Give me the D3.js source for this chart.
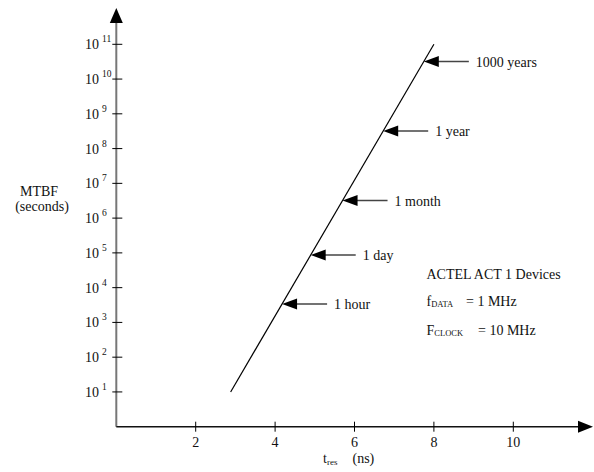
<!DOCTYPE html>
<html>
<head>
<meta charset="utf-8">
<script src="https://cdn.jsdelivr.net/npm/d3@7"></script>
<style>
  body { margin: 0; background: #fff; }
  text { font-family: "Liberation Serif", "DejaVu Serif", serif; fill: #111; }
</style>
</head>
<body>
<div id="chart"></div>
<script>
// chart data
var lineTres = [2.88, 8.0];          // ns
var lineMtbf = [1e1, 1e11];          // seconds
var xTicks = [2, 4, 6, 8, 10];
var yExponents = [1, 2, 3, 4, 5, 6, 7, 8, 9, 10, 11];
var markLabels = ["1000 years", "1 year", "1 month", "1 day", "1 hour"];
var markMtbf = [3.2e10, 3.2e8, 3.2e6, 8.7e4, 3.4e3];

var width = 594, height = 472;

var svg = d3.select("#chart").append("svg")
  .attr("width", width)
  .attr("height", height);

var x = d3.scaleLinear().domain([0, 10]).range([116.3, 513.3]);
var y = d3.scaleLog().domain([1, 1e11]).range([426.7, 44.3]);

// y axis (grey, with arrow)
svg.append("line")
  .attr("x1", x(0)).attr("x2", x(0))
  .attr("y1", y(1)).attr("y2", 22)
  .style("stroke", "#777").style("stroke-width", 2);
svg.append("path")
  .attr("d", "M" + x(0) + ",8 L" + (x(0) - 6.5) + ",23 L" + (x(0) + 6.5) + ",23 Z")
  .style("fill", "#000");

svg.selectAll(".ytick")
  .data(yExponents)
  .enter().append("line")
  .attr("class", "ytick")
  .attr("x1", x(0) - 4).attr("x2", x(0) + 6)
  .attr("y1", function(d) { return y(Math.pow(10, d)); })
  .attr("y2", function(d) { return y(Math.pow(10, d)); })
  .style("stroke", "#000").style("stroke-width", 1);

var ylab = svg.selectAll(".ylab")
  .data(yExponents)
  .enter().append("text")
  .attr("class", "ylab")
  .attr("x", 85)
  .attr("y", function(d) { return y(Math.pow(10, d)) + 5; })
  .style("font-size", "14px");
ylab.append("tspan").text("10");
ylab.append("tspan")
  .attr("dx", 3).attr("dy", -7)
  .style("font-size", "9.5px")
  .text(function(d) { return d; });

// x axis (black, with arrow)
svg.append("line")
  .attr("x1", x(0)).attr("x2", 580)
  .attr("y1", y(1)).attr("y2", y(1))
  .style("stroke", "#111").style("stroke-width", 1.5);
svg.append("path")
  .attr("d", "M593," + y(1) + " L578," + (y(1) - 6) + " L578," + (y(1) + 6) + " Z")
  .style("fill", "#000");

svg.selectAll(".xtick")
  .data(xTicks)
  .enter().append("line")
  .attr("class", "xtick")
  .attr("x1", function(d) { return x(d); })
  .attr("x2", function(d) { return x(d); })
  .attr("y1", y(1) - 5).attr("y2", y(1) + 5)
  .style("stroke", "#000").style("stroke-width", 1);

svg.selectAll(".xlab")
  .data(xTicks)
  .enter().append("text")
  .attr("class", "xlab")
  .attr("x", function(d) { return x(d); })
  .attr("y", 447)
  .attr("text-anchor", "middle")
  .style("font-size", "14px")
  .text(function(d) { return d; });

// axis titles
var xt = svg.append("text").attr("x", 323).attr("y", 463).style("font-size", "14px");
xt.append("tspan").text("t");
xt.append("tspan").attr("dy", 2).style("font-size", "9px").text("res");
svg.append("text").attr("x", 352.5).attr("y", 463).style("font-size", "14px").text("(ns)");

svg.append("text")
  .attr("x", 39).attr("y", 196)
  .attr("text-anchor", "middle")
  .style("font-size", "14px")
  .text("MTBF");
svg.append("text")
  .attr("x", 42).attr("y", 211)
  .attr("text-anchor", "middle")
  .style("font-size", "14px")
  .text("(seconds)");

// MTBF line
var pts = lineTres.map(function(d, i) { return [d, lineMtbf[i]]; });
svg.append("path")
  .datum(pts)
  .attr("d", d3.line().x(function(d) { return x(d[0]); }).y(function(d) { return y(d[1]); }))
  .style("fill", "none").style("stroke", "#000").style("stroke-width", 1.2);

// where a given MTBF hits the line (log-linear)
var lg0 = Math.log10(lineMtbf[0]), lg1 = Math.log10(lineMtbf[1]);
function tresAt(m) {
  var t = (Math.log10(m) - lg0) / (lg1 - lg0);
  return lineTres[0] + t * (lineTres[1] - lineTres[0]);
}

// arrows with labels
var marks = svg.selectAll(".mark")
  .data(markLabels)
  .enter().append("g")
  .attr("class", "mark")
  .attr("transform", function(d, i) {
    return "translate(" + x(tresAt(markMtbf[i])) + "," + y(markMtbf[i]) + ")";
  });
marks.append("line")
  .attr("x1", 12).attr("x2", 45).attr("y1", 0).attr("y2", 0)
  .style("stroke", "#444").style("stroke-width", 1.5);
marks.append("path")
  .attr("d", "M0,0 L15,-5.5 L15,5.5 Z")
  .style("fill", "#000");
marks.append("text")
  .attr("x", 52).attr("y", 5)
  .style("font-size", "14px")
  .text(function(d) { return d; });

// device notes
svg.append("text").attr("x", 426.5).attr("y", 279).style("font-size", "14px").text("ACTEL ACT 1 Devices");
var f1 = svg.append("text").attr("x", 426.5).attr("y", 306).style("font-size", "14px");
f1.append("tspan").text("f");
f1.append("tspan").attr("dy", 1).style("font-size", "8.5px").text("DATA");
f1.append("tspan").attr("x", 466).attr("dy", -1).text("= 1 MHz");
var f2 = svg.append("text").attr("x", 426.5).attr("y", 335).style("font-size", "14px");
f2.append("tspan").text("F");
f2.append("tspan").attr("dy", 1).style("font-size", "8.5px").text("CLOCK");
f2.append("tspan").attr("x", 478).attr("dy", -1).text("= 10 MHz");
</script>
</body>
</html>
